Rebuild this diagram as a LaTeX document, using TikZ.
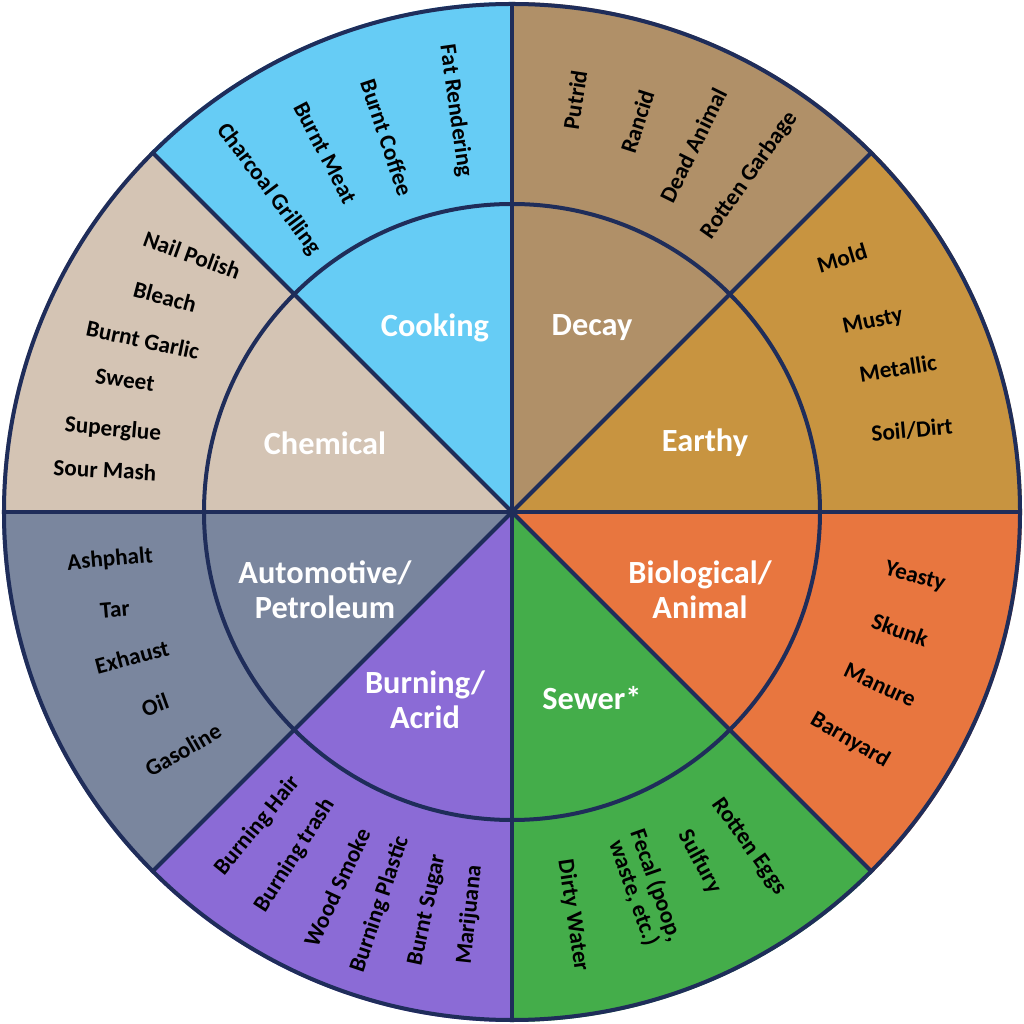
\documentclass[tikz,border=0pt]{standalone}
\usepackage{fontspec}
\setmainfont{Carlito}
\definecolor{rim}{HTML}{1F2D5A}
\definecolor{cooking}{HTML}{66CCF5}
\definecolor{decay}{HTML}{B09068}
\definecolor{earthy}{HTML}{C89440}
\definecolor{bio}{HTML}{E8763F}
\definecolor{sewer}{HTML}{44AD4A}
\definecolor{burning}{HTML}{8B6BD6}
\definecolor{petrol}{HTML}{7A869E}
\definecolor{chem}{HTML}{D4C4B4}
\begin{document}
\begin{tikzpicture}[x=0.25mm,y=0.25mm,
    group/.style={text=white, font=\bfseries\fontsize{23}{25}\selectfont, align=center},
    odor/.style={text=black, font=\bfseries\fontsize{16.5}{17}\selectfont, align=center}
]
\useasboundingbox (-512,-512) rectangle (512,512);
% sectors
\foreach \start/\col in {0/earthy,45/decay,90/cooking,135/chem,180/petrol,225/burning,270/sewer,315/bio}
  \fill[\col] (0,0) -- (\start:510) arc (\start:\start+45:510) -- cycle;
% rims and spokes
\draw[rim, line width=1mm] (0,0) circle (508);
\draw[rim, line width=1mm] (0,0) circle (308);
\foreach \a in {0,45,...,315}
  \draw[rim, line width=1mm] (0,0) -- (\a:508);
% groups
\node (Cooking) [group] at (-77,184) {Cooking};
\node (Decay) [group] at (80,184) {Decay};
\node (Earthy) [group] at (193,69) {Earthy};
\node (Chemical) [group] at (-187,69) {Chemical};
\node (Automotive) [group] at (-187,-78) {Automotive/\\Petroleum};
\node (Biological) [group] at (188,-78) {Biological/\\Animal};
\node (Burning) [group] at (-87,-188) {Burning/\\Acrid};
\node (Sewer) [group] at (80,-186) {Sewer*};
% cooking and burning, radial
\foreach \a/\r/\txt [count=\i] in {98/405/Fat Rendering,108.5/395/Burnt Coffee,117.5/405/Burnt Meat,127/404/Charcoal Grilling}
  \node (Cook\i) [odor, rotate=\a-180] at (\a:\r) {\txt};
\foreach \a/\r/\txt [count=\i] in {-129/404/Burning Hair,-122.3/406/Burning trash,-115/414/Wood Smoke,-108.6/414/Burning Plastic,-102/407/Burnt Sugar,-96/405/Marijuana}
  \node (Burn\i) [odor, rotate=\a+180] at (\a:\r) {\txt};
% decay and sewer, radial
\foreach \a/\r/\txt [count=\i] in {81.3/417/Putrid,72.2/410/Rancid,63.7/409/Dead Animal,54.8/412/Rotten Garbage}
  \node (Decay\i) [odor, rotate=\a] at (\a:\r) {\txt};
\foreach \a/\r/\txt [count=\i] in {-54.7/410/Rotten Eggs,-61.8/397/Sulfury,-70.6/400/{Fecal (poop,\\waste, etc.)},-81.4/408/Dirty Water}
  \node (Sewer\i) [odor, rotate=\a] at (\a:\r) {\txt};
% earthy
\node (Mold) [odor, rotate=17] at (330,254) {Mold};
\node (Musty) [odor, rotate=12] at (361,190) {Musty};
\node (Metallic) [odor, rotate=9] at (386,144) {Metallic};
\node (Soil) [odor, rotate=5] at (400,82) {Soil/Dirt};
% chemical
\node (Nail) [odor, rotate=-20] at (-320,257) {Nail Polish};
\node (Bleach) [odor, rotate=-15] at (-347,215) {Bleach};
\node (Garlic) [odor, rotate=-12] at (-369,172) {Burnt Garlic};
\node (Sweet) [odor, rotate=-8] at (-387,132) {Sweet};
\node (Glue) [odor, rotate=-5] at (-399,82) {Superglue};
\node (Mash) [odor, rotate=-3] at (-407,42) {Sour Mash};
% automotive
\node (Asphalt) [odor, rotate=5] at (-402,-48) {Ashphalt};
\node (Tar) [odor, rotate=5] at (-397,-98) {Tar};
\node (Exhaust) [odor, rotate=15] at (-380,-145) {Exhaust};
\node (Oil) [odor, rotate=20] at (-357,-193) {Oil};
\node (Gas) [odor, rotate=30] at (-329,-238) {Gasoline};
% biological
\node (Yeasty) [odor, rotate=-15] at (403,-65) {Yeasty};
\node (Skunk) [odor, rotate=-20] at (388,-118) {Skunk};
\node (Manure) [odor, rotate=-25] at (368,-173) {Manure};
\node (Barn) [odor, rotate=-30] at (338,-228) {Barnyard};
\end{tikzpicture}
\end{document}
